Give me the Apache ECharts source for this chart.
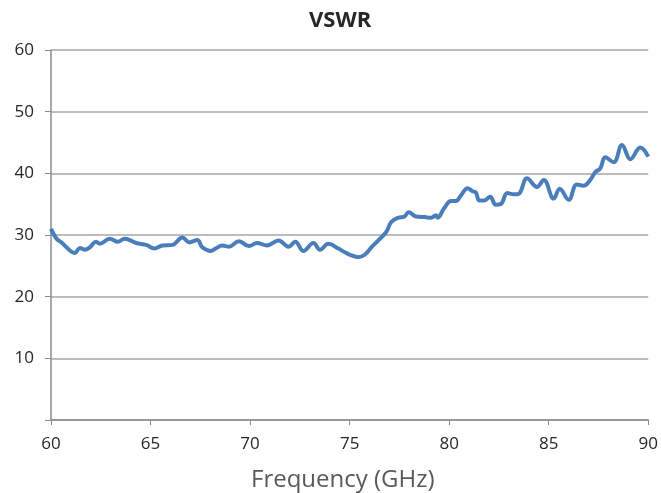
<!DOCTYPE html>
<html>
<head>
<meta charset="utf-8">
<script src="https://cdn.jsdelivr.net/npm/echarts@6/dist/echarts.min.js"></script>
<style>
  html, body { margin: 0; padding: 0; background: #fff; }
  #chart { width: 661px; height: 493px; }
</style>
</head>
<body>
<div id="chart"></div>
<script>
// frequency (GHz) and VSWR
var freq = [60.0, 60.28, 60.53, 60.78, 61.03, 61.2, 61.45, 61.7, 61.95, 62.25, 62.45, 62.95,
  63.36, 63.7, 64.28, 64.78, 65.19, 65.6, 66.1, 66.6, 66.94, 67.35, 67.6, 68.02, 68.27,
  68.6, 68.94, 69.44, 69.94, 70.35, 70.85, 71.43, 71.93, 72.27, 72.68, 73.18, 73.52,
  73.93, 74.43, 74.76, 75.09, 75.43, 75.76, 76.09, 76.43, 76.84, 77.09, 77.43, 77.76,
  77.96, 78.34, 78.76, 79.09, 79.34, 79.42, 79.76, 80.09, 80.34, 80.59, 80.92, 81.17,
  81.34, 81.51, 81.76, 82.06, 82.34, 82.59, 82.92, 83.25, 83.5, 83.91, 84.41, 84.75,
  85.25, 85.55, 86.0, 86.41, 86.75, 87.08, 87.34, 87.59, 87.84, 88.26, 88.68, 89.1,
  89.6, 90.0];
var vswr = [31.0, 29.4, 28.8, 28.0, 27.3, 27.1, 27.9, 27.6, 28.0, 28.9, 28.6, 29.4,
  28.9, 29.4, 28.7, 28.4, 27.8, 28.3, 28.4, 29.6, 28.8, 29.2, 28.0, 27.4, 27.8,
  28.3, 28.1, 29.0, 28.2, 28.7, 28.3, 29.1, 28.1, 28.9, 27.4, 28.7, 27.6,
  28.6, 27.8, 27.2, 26.7, 26.4, 26.8, 28.0, 29.1, 30.5, 32.1, 32.8, 33.0,
  33.7, 33.0, 32.9, 32.8, 33.2, 32.8, 34.4, 35.5, 35.5, 36.4, 37.6, 37.1,
  36.9, 35.6, 35.6, 36.2, 34.9, 35.0, 36.8, 36.6, 36.7, 39.2, 37.8, 38.9,
  35.9, 37.5, 35.7, 38.2, 38.0, 38.9, 40.2, 40.8, 42.6, 41.8, 44.6, 42.3,
  44.2, 42.7];
var xTicks = [60, 65, 70, 75, 80, 85, 90];
var yTicks = [0, 10, 20, 30, 40, 50, 60];

var chart = echarts.init(document.getElementById('chart'));
var font = '"Open Sans", "Noto Sans", sans-serif';

chart.setOption({
  animation: false,
  // title and axis name sit left of the plot centre, like the original
  graphic: [
    {
      type: 'text', left: 343 - 34, top: 10,
      style: { text: 'VSWR', font: 'bold 22px ' + font, fill: '#262626' }
    },
    {
      type: 'text', left: 342 - 91, top: 468,
      style: { text: 'Frequency (GHz)', font: '24px ' + font, fill: '#595959' }
    }
  ],
  grid: { left: 51, right: 9, top: 50, bottom: 73 },
  xAxis: {
    type: 'value',
    min: xTicks[0],
    max: xTicks[xTicks.length - 1],
    interval: 5,
    axisLine: { lineStyle: { color: '#8c8c8c', width: 1.5 } },
    axisTick: { show: true, length: 5, lineStyle: { color: '#8c8c8c' } },
    axisLabel: { fontFamily: font, fontSize: 17, color: '#262626', margin: 16 },
    splitLine: { show: false }
  },
  yAxis: {
    type: 'value',
    min: yTicks[0],
    max: yTicks[yTicks.length - 1],
    interval: 10,
    axisLine: { show: true, lineStyle: { color: '#8c8c8c', width: 1.5 } },
    axisTick: { show: true, length: 6, lineStyle: { color: '#8c8c8c' } },
    axisLabel: {
      fontFamily: font, fontSize: 17, color: '#262626', margin: 17,
      formatter: function (v) { return v === 0 ? '' : v; }
    },
    splitLine: { lineStyle: { color: '#a6a6a6', width: 1.5 } }
  },
  series: [{
    type: 'line',
    data: freq.map(function (f, i) { return [f, vswr[i]]; }),
    smooth: 0.4,
    showSymbol: false,
    lineStyle: { color: '#4a7ebb', width: 4 }
  }]
});
</script>
</body>
</html>
